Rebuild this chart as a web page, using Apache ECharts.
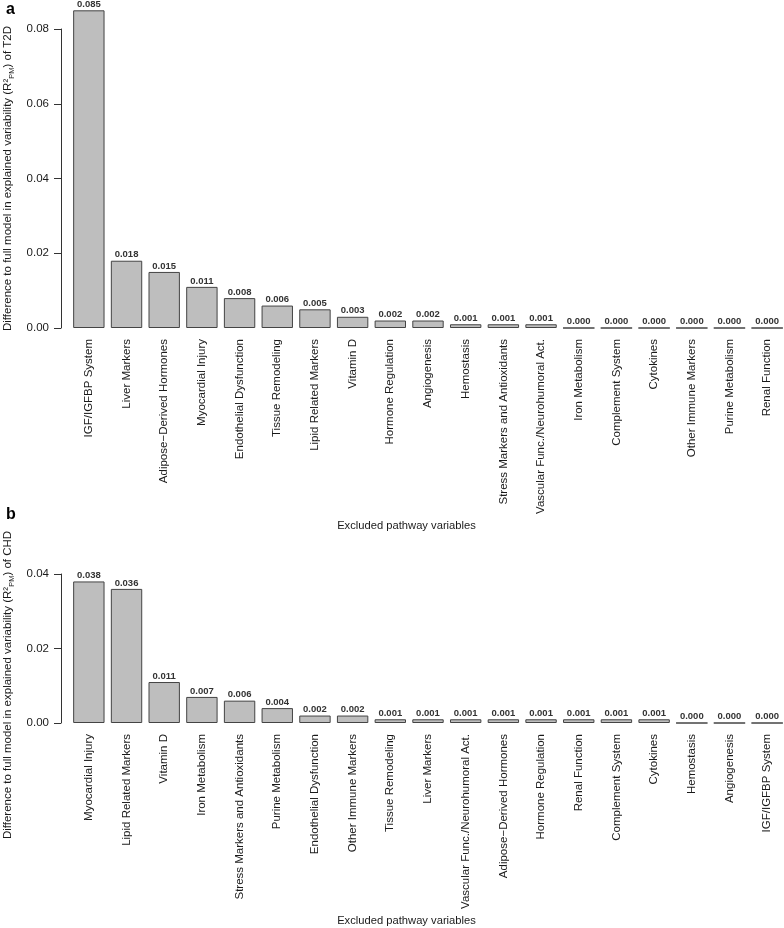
<!DOCTYPE html>
<html>
<head>
<meta charset="utf-8">
<script src="https://cdn.jsdelivr.net/npm/echarts@6/dist/echarts.min.js"></script>
<style>html,body{margin:0;padding:0;background:#fff;}#c{width:784px;height:928px;}</style>
</head>
<body>
<div id="c"></div>
<script>
var categoriesA = ['IGF/IGFBP System','Liver Markers','Adipose\u2212Derived Hormones','Myocardial Injury','Endothelial Dysfunction','Tissue Remodeling','Lipid Related Markers','Vitamin D','Hormone Regulation','Angiogenesis','Hemostasis','Stress Markers and Antioxidants','Vascular Func./Neurohumoral Act.','Iron Metabolism','Complement System','Cytokines','Other Immune Markers','Purine Metabolism','Renal Function'];
var valuesA = [0.085,0.018,0.015,0.011,0.008,0.006,0.005,0.003,0.002,0.002,0.001,0.001,0.001,0.000,0.000,0.000,0.000,0.000,0.000];
var categoriesB = ['Myocardial Injury','Lipid Related Markers','Vitamin D','Iron Metabolism','Stress Markers and Antioxidants','Purine Metabolism','Endothelial Dysfunction','Other Immune Markers','Tissue Remodeling','Liver Markers','Vascular Func./Neurohumoral Act.','Adipose\u2212Derived Hormones','Hormone Regulation','Renal Function','Complement System','Cytokines','Hemostasis','Angiogenesis','IGF/IGFBP System'];
var valuesB = [0.038,0.036,0.011,0.007,0.006,0.004,0.002,0.002,0.001,0.001,0.001,0.001,0.001,0.001,0.001,0.001,0.000,0.000,0.000];
var yTicksA = [0.00,0.02,0.04,0.06,0.08];
var yTicksB = [0.00,0.02,0.04];
var xTitle = 'Excluded pathway variables';
var yTitleA = ['Difference to full model in explained variability (R\u00b2','PM',') of T2D'];
var yTitleB = ['Difference to full model in explained variability (R\u00b2','PM',') of CHD'];

var FONT = '"Liberation Sans", Arial, sans-serif';
var chart = echarts.init(document.getElementById('c'), null, {renderer:'canvas'});

function yName(parts){ return '{t|' + parts[0] + '}{s|' + parts[1] + '}{t|' + parts[2] + '}'; }
var richY = {
  t:{fontSize:11.5, fontFamily:FONT, color:'#1a1a1a', lineHeight:16, verticalAlign:'middle'},
  s:{fontSize:7.5, fontFamily:FONT, color:'#1a1a1a', lineHeight:8, verticalAlign:'bottom'}
};

function xAxisCfg(idx, cats){
  return {
    type:'category', gridIndex:idx, data:cats,
    axisLine:{show:false}, axisTick:{show:false},
    axisLabel:{interval:0, rotate:90, margin:11, fontSize:11.5, fontFamily:FONT, color:'#1a1a1a'},
    name:xTitle, nameLocation:'middle', nameGap:192,
    nameTextStyle:{fontSize:11.2, fontFamily:FONT, color:'#1a1a1a', padding:[0,43,0,0]}
  };
}
function yAxisCfg(idx, ticks, nameParts, padRight){
  return {
    type:'value', gridIndex:idx, min:ticks[0], max:ticks[ticks.length-1], interval:ticks[1]-ticks[0],
    offset:9,
    axisLine:{show:true, lineStyle:{color:'#333', width:1}},
    axisTick:{show:true, length:7, lineStyle:{color:'#333'}},
    splitLine:{show:false},
    axisLabel:{margin:12, fontSize:11.5, fontFamily:FONT, color:'#1a1a1a', formatter:function(v){return v.toFixed(2);}},
    name:yName(nameParts), nameLocation:'middle', nameRotate:90, nameGap:43,
    nameTextStyle:{rich:richY, padding:[0,padRight,0,0]}
  };
}
function seriesCfg(idx, vals){
  return {
    type:'bar', xAxisIndex:idx, yAxisIndex:idx, data:vals, clip:false,
    barCategoryGap:'16.7%',
    itemStyle:{color:'#bebebe', borderColor:'#444', borderWidth:1},
    label:{show:true, position:'top', distance:1, fontSize:9.5, fontWeight:'bold', fontFamily:FONT, color:'#333',
      formatter:function(p){return p.value.toFixed(3);}}
  };
}

chart.setOption({
  animation:false,
  backgroundColor:'#fff',
  title:[
    {text:'a', left:6, top:2, padding:0, textStyle:{fontSize:16, fontWeight:'bold', fontFamily:FONT, color:'#000'}},
    {text:'b', left:6, top:507, padding:0, textStyle:{fontSize:16, fontWeight:'bold', fontFamily:FONT, color:'#000'}}
  ],
  grid:[
    {left:70, width:716, top:29, height:299, containLabel:false, outerBoundsMode:'none'},
    {left:70, width:716, top:574, height:149, containLabel:false, outerBoundsMode:'none'}
  ],
  xAxis:[xAxisCfg(0, categoriesA), xAxisCfg(1, categoriesB)],
  yAxis:[yAxisCfg(0, yTicksA, yTitleA, 0), yAxisCfg(1, yTicksB, yTitleB, 73)],
  series:[seriesCfg(0, valuesA), seriesCfg(1, valuesB)]
});
</script>
</body>
</html>
